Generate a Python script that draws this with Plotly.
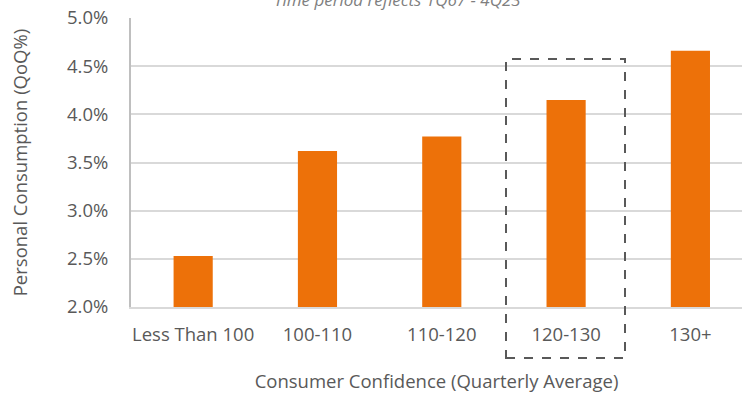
import plotly.graph_objects as go

categories = ["Less Than 100", "100-110", "110-120", "120-130", "130+"]
consumption = [0.0253, 0.0362, 0.0377, 0.0415, 0.0466]
y_ticks = [0.020, 0.025, 0.030, 0.035, 0.040, 0.045, 0.050]

W, H = 742, 395
ML, MR, MT, MB = 131, 0, 18, 88
FONT = "Open Sans"
GREY = "#595959"
FS = 18.5

fig = go.Figure()
fig.add_trace(go.Bar(
    x=categories, y=consumption,
    marker=dict(color="#ED7109", line=dict(width=0)),
    width=0.315,
))

fig.update_layout(
    width=W, height=H,
    margin=dict(l=ML, r=MR, t=MT, b=MB, pad=0),
    paper_bgcolor="white", plot_bgcolor="white",
    showlegend=False,
    font=dict(family=FONT, size=FS, color=GREY),
)
fig.update_xaxes(
    type="category", range=[-0.5, 4.415],
    showgrid=False, showline=True, linecolor="#d9d9d9", linewidth=2,
    ticks="", ticklabelstandoff=10,
    tickfont=dict(family=FONT, size=FS, color=GREY),
    title=dict(text="Consumer Confidence (Quarterly Average)", standoff=30,
               font=dict(family=FONT, size=FS, color=GREY)),
)
fig.update_yaxes(
    range=[0.020, 0.050], tickvals=y_ticks, tickformat=".1%",
    showgrid=True, gridcolor="#d9d9d9", gridwidth=1.5,
    showline=True, linecolor="#bfbfbf", linewidth=2,
    zeroline=False, ticks="", ticklabelstandoff=17,
    tickfont=dict(family=FONT, size=FS, color=GREY),
    title=dict(text="Personal Consumption (QoQ%)", standoff=35,
               font=dict(family=FONT, size=FS, color=GREY)),
)

# highlight box around 120-130 (paper coordinates)
pw = W - ML - MR
ph = H - MT - MB
def px2x(px):
    return (px - ML) / pw
def py2y(py):
    return (H - MB - py) / ph

fig.add_shape(type="rect", xref="paper", yref="paper",
              x0=px2x(506), x1=px2x(625), y0=py2y(358), y1=py2y(59),
              line=dict(color="#595959", width=2, dash="dash"),
              fillcolor="rgba(0,0,0,0)", layer="above")

fig.add_annotation(text="<i>Time period reflects 1Q67 - 4Q23</i>",
                   xref="paper", yref="paper", x=px2x(397), y=py2y(0),
                   xanchor="center", yanchor="middle", showarrow=False,
                   font=dict(family=FONT, size=17, color="#7f7f7f"))

fig.write_html("out.html")
